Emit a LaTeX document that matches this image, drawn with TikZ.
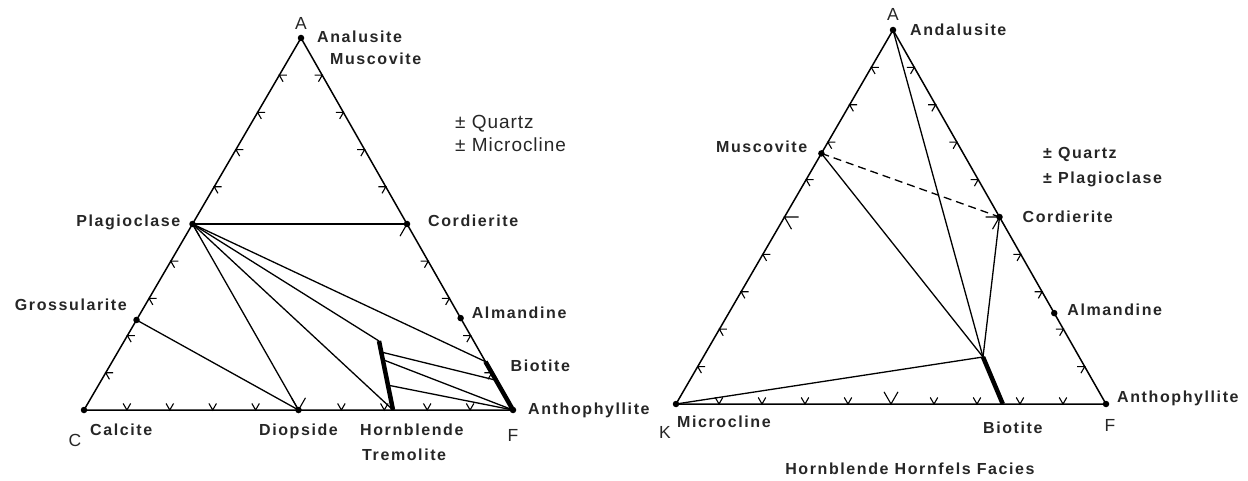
\documentclass[tikz,border=0pt]{standalone}
\usepackage{fontspec}
\setmainfont{Liberation Sans}
\newfontfamily\labfont[LetterSpace=10]{Liberation Sans}
\newfontfamily\notefont[LetterSpace=5]{Liberation Sans}
\usetikzlibrary{calc, positioning}

\begin{document}
\begin{tikzpicture}[
  x=1pt, y=-1pt,
  edge/.style={line width=1.5pt, line join=round},
  tie/.style={line width=1.3pt},
  solution/.style={line width=4.5pt},
  tickmark/.style={line width=1.1pt},
  dot/.style={circle, fill=black, inner sep=0pt, minimum size=6.5pt},
  lab/.style={inner sep=0pt, font=\labfont\bfseries\fontsize{16}{18}\selectfont, text=black!85},
  vtx/.style={inner sep=0pt, anchor=center, font=\fontsize{17.5}{19}\selectfont, text=black!85},
  note/.style={inner sep=0pt, anchor=mid west, font=\notefont\fontsize{19}{21}\selectfont, text=black!85}
]
\useasboundingbox (0,0) rectangle (1248,481);

% ---- left triangle (A-C-F)
\coordinate (lA) at (301,38);
\coordinate (lC) at (84,410);
\coordinate (lF) at (513,410);
\coordinate (lPl) at ($(lA)!0.5!(lC)$);
\coordinate (lCd) at ($(lA)!0.5!(lF)$);
\coordinate (lGr) at ($(lA)!0.758!(lC)$);
\coordinate (lAl) at ($(lA)!0.753!(lF)$);
\coordinate (lDi) at ($(lC)!0.5!(lF)$);
\coordinate (lBt) at ($(lA)!0.87!(lF)$);
\coordinate (lBt2) at ($(lA)!0.92!(lF)$);
\coordinate (lHt) at (379,341);
\coordinate (lHb) at (393,410);

\draw[edge] (lA) -- (lC) -- (lF) -- cycle;

% ticks
\foreach \k in {1,...,9}{
  \pgfmathsetmacro\s{\k==5 ? 14 : 7.5}
  \draw[tickmark] ($(lA)!\k/10!(lC)$) +({\s},0) -- +(0,0) -- +({0.5*\s},{0.87*\s});
  \draw[tickmark] ($(lA)!\k/10!(lF)$) +({-\s},0) -- +(0,0) -- +({-0.5*\s},{0.87*\s});
  \draw[tickmark] ($(lC)!\k/10!(lF)$) +({-0.5*\s},{-0.87*\s}) -- +(0,0) -- +({0.5*\s},{-0.87*\s});
}

% tie lines
\draw[tie] (lPl) -- (lCd);
\draw[tie] (lPl) -- (lDi);
\draw[tie] (lGr) -- (lDi);
\draw[tie] (lPl) -- (lHb);
\draw[tie] (lPl) -- (lHt);
\draw[tie] (lPl) -- (lBt);
\draw[tie] ($(lHt)!0.16!(lHb)$) -- (lBt2);
\draw[tie] ($(lHt)!0.27!(lHb)$) -- (lF);
\draw[tie] ($(lHt)!0.64!(lHb)$) -- (lF);
\draw[solution] (lHt) -- (lHb);
\draw[solution] (lBt) -- (lF);

\foreach \p in {lA,lC,lF,lPl,lCd,lGr,lAl,lDi}
  \node[dot] (\p-d) at (\p) {};

\node[vtx, above=14.5pt of lA, anchor=center] (lAlab) {A};
\node[vtx, below left=30pt and 9pt of lC, anchor=center] (lClab) {C};
\node[vtx, below=25pt of lF, anchor=center] (lFlab) {F};
\node[lab, below right=2pt and 16pt of lA, anchor=mid west] (lAnd) {Analusite};
\node[lab, below right=24pt and 29pt of lA, anchor=mid west] (lMus) {Muscovite};
\node[note] (lQtz) at (455,126) {\textpm\ Quartz};
\node[note] (lMic) at (455,149) {\textpm\ Microcline};
\node[lab, left=12pt of lPl, anchor=mid east] (lPlab) {Plagioclase};
\node[lab, right=21pt of lCd, anchor=mid west] (lCdlab) {Cordierite};
\node[lab, above left=12pt and 9.5pt of lGr, anchor=mid east] (lGrlab) {Grossularite};
\node[lab, above right=2pt and 11pt of lAl, anchor=mid west] (lAllab) {Almandine};
\node[lab, below right=7pt and 25pt of lBt, anchor=mid west] (lBtlab) {Biotite};
\node[lab, below right=2pt and 15pt of lF, anchor=mid west] (lAnt) {Anthophyllite};
\node[lab, below right=23pt and 6pt of lC, anchor=mid west] (lCal) {Calcite};
\node[lab, below=23pt of lDi, anchor=mid] (lDilab) {Diopside};
\node[lab, below left=23pt and 33pt of lHb, anchor=mid west] (lHbl) {Hornblende};
\node[lab, below left=48pt and 31pt of lHb, anchor=mid west] (lTre) {Tremolite};

% ---- right triangle (A-K-F)
\coordinate (rA) at (893,30);
\coordinate (rK) at (676,404);
\coordinate (rF) at (1106,404);
\coordinate (rMu) at ($(rA)!0.33!(rK)$);
\coordinate (rCd) at ($(rA)!0.5!(rF)$);
\coordinate (rAl) at ($(rA)!0.757!(rF)$);
\coordinate (rBb) at ($(rK)!0.76!(rF)$);
\coordinate (rBt) at (983,357);

\draw[edge] (rA) -- (rK) -- (rF) -- cycle;

\foreach \k in {1,...,9}{
  \pgfmathsetmacro\s{\k==5 ? 14 : 7.5}
  \draw[tickmark] ($(rA)!\k/10!(rK)$) +({\s},0) -- +(0,0) -- +({0.5*\s},{0.87*\s});
  \draw[tickmark] ($(rA)!\k/10!(rF)$) +({-\s},0) -- +(0,0) -- +({-0.5*\s},{0.87*\s});
  \draw[tickmark] ($(rK)!\k/10!(rF)$) +({-0.5*\s},{-0.87*\s}) -- +(0,0) -- +({0.5*\s},{-0.87*\s});
}

\draw[tie] (rA) -- (rBt);
\draw[tie] (rMu) -- (rBt);
\draw[tie] (rCd) -- (rBt);
\draw[tie] (rK) -- (rBt);
\draw[tie, dash pattern=on 8pt off 5pt] (rMu) -- (rCd);
\draw[solution] (rBt) -- (rBb);

\foreach \p in {rA,rK,rF,rMu,rCd,rAl}
  \node[dot] (\p-d) at (\p) {};

\node[vtx, above=16pt of rA, anchor=center] (rAlab) {A};
\node[vtx, below left=28pt and 11pt of rK, anchor=center] (rKlab) {K};
\node[vtx, below=21pt of rF, anchor=center, xshift=4pt] (rFlab) {F};
\node[lab, below right=3pt and 17pt of rA, anchor=mid west] (rAnd) {Andalusite};
\node[lab, above left=4pt and 14pt of rMu, anchor=mid east] (rMus) {Muscovite};
\node[lab, anchor=mid west] (rQtz) at (1043,156) {\textpm\ Quartz};
\node[lab, anchor=mid west] (rPla) at (1043,181) {\textpm\ Plagioclase};
\node[lab, below right=3pt and 23pt of rCd, anchor=mid west] (rCdlab) {Cordierite};
\node[lab, right=13pt of rAl, anchor=mid west] (rAllab) {Almandine};
\node[lab, above right=4pt and 11pt of rF, anchor=mid west] (rAnt) {Anthophyllite};
\node[lab, below=27pt of rBb, anchor=mid, xshift=10pt] (rBtlab) {Biotite};
\node[lab, below right=21pt and 1pt of rK, anchor=mid west] (rMic) {Microcline};
\node[lab] (facies) at (910,469) {Hornblende Hornfels Facies};

\end{tikzpicture}
\end{document}
